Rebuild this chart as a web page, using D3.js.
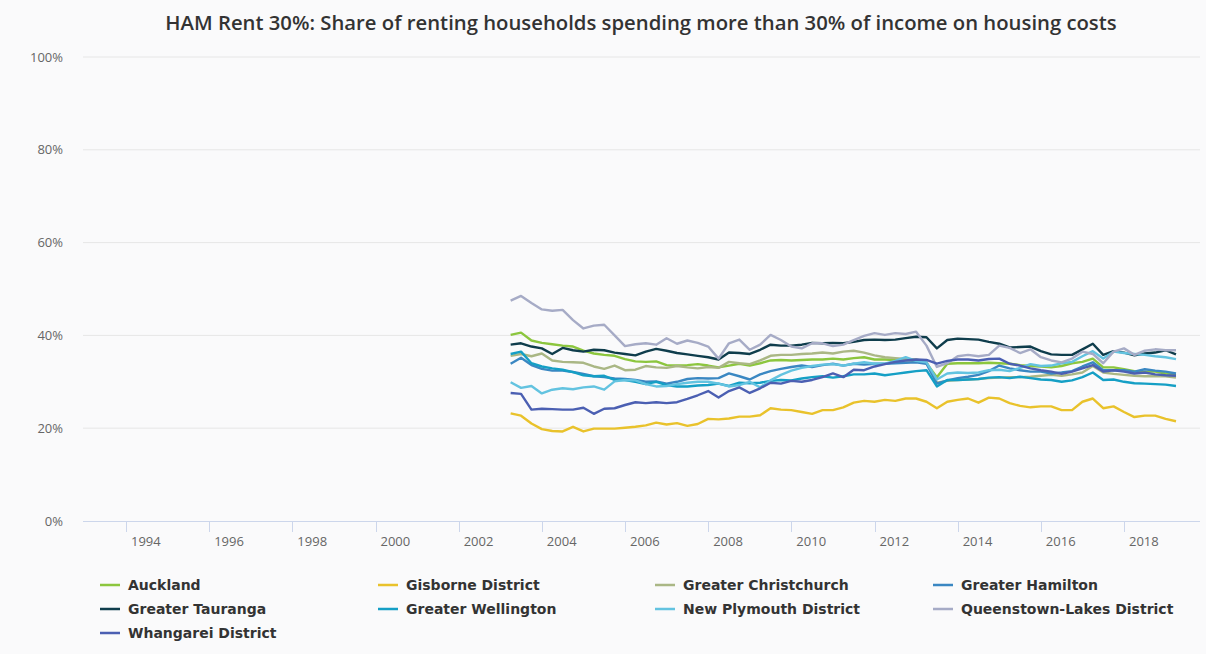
<!DOCTYPE html>
<html>
<head>
<meta charset="utf-8">
<script src="https://cdn.jsdelivr.net/npm/d3@7.9.0/dist/d3.min.js"></script>
<style>
  body { margin: 0; background: #fafafb; }
  svg { display: block; font-family: "Open Sans", sans-serif; }
</style>
</head>
<body>
<svg id="chart" width="1206" height="654"></svg>
<script>
// quarterly values, first point 2003 Q2
const startYear = 2003.25;
const xTicks = [1994, 1996, 1998, 2000, 2002, 2004, 2006, 2008, 2010, 2012, 2014, 2016, 2018];
const yTicks = [0, 20, 40, 60, 80, 100];

const auckland = [40.1, 40.6, 38.9, 38.4, 38.1, 37.8, 37.6, 36.7, 36.1, 35.8,
  35.6, 34.9, 34.4, 34.3, 34.4, 33.6, 33.5, 33.6, 33.8, 33.5,
  33.1, 33.5, 33.9, 33.5, 34.0, 34.6, 34.7, 34.6, 34.7, 34.8,
  34.8, 35.0, 34.8, 35.1, 35.3, 34.8, 34.8, 34.7, 34.7, 34.6,
  34.0, 31.0, 33.9, 34.0, 34.0, 34.0, 34.1, 34.0, 33.9, 33.6,
  33.4, 33.3, 33.1, 33.4, 34.0, 34.3, 35.0, 33.1, 33.1, 32.7,
  32.3, 32.2, 32.2, 31.8, 31.5];
const gisborne = [23.2, 22.7, 21.0, 19.8, 19.4, 19.3, 20.3, 19.3, 19.9, 19.9,
  19.9, 20.1, 20.3, 20.6, 21.2, 20.8, 21.1, 20.5, 20.9, 22.0,
  21.9, 22.1, 22.5, 22.5, 22.8, 24.3, 24.0, 23.9, 23.5, 23.1,
  23.9, 23.9, 24.5, 25.5, 25.9, 25.7, 26.1, 25.9, 26.4, 26.4,
  25.7, 24.3, 25.7, 26.1, 26.4, 25.5, 26.6, 26.4, 25.4, 24.8,
  24.5, 24.7, 24.7, 23.9, 23.9, 25.7, 26.4, 24.3, 24.7, 23.5,
  22.4, 22.7, 22.7, 22.0, 21.5];
const christchurch = [35.6, 36.0, 35.5, 36.1, 34.6, 34.3, 34.2, 34.1, 33.3, 32.8,
  33.5, 32.5, 32.6, 33.4, 33.1, 33.0, 33.4, 33.1, 32.9, 33.2,
  33.0, 34.3, 34.0, 33.8, 34.6, 35.6, 35.8, 35.8, 36.0, 36.1,
  36.3, 36.1, 36.5, 36.7, 36.3, 35.7, 35.3, 35.1, 34.9, 34.8,
  34.3, 29.8, 30.2, 30.4, 30.5, 30.6, 30.8, 30.9, 31.0, 31.0,
  31.1, 31.3, 31.5, 31.3, 31.6, 32.0, 33.4, 32.0, 31.7, 31.5,
  31.3, 31.2, 31.2, 31.2, 30.9];
const hamilton = [33.9, 35.2, 33.6, 32.8, 32.4, 32.4, 32.1, 31.7, 31.2, 31.0,
  30.7, 30.6, 30.4, 30.0, 30.1, 29.6, 30.0, 30.6, 30.8, 30.7,
  30.8, 31.8, 31.2, 30.5, 31.6, 32.3, 32.8, 33.2, 33.5, 33.2,
  33.6, 33.9, 33.5, 33.9, 33.7, 33.9, 33.9, 34.0, 34.1, 34.2,
  33.9, 29.6, 30.3, 30.8, 31.1, 31.5, 32.3, 33.5, 32.9, 32.5,
  32.2, 32.2, 31.8, 32.0, 32.3, 33.3, 34.2, 32.5, 32.5, 32.5,
  32.2, 32.7, 32.4, 32.2, 31.8];
const tauranga = [38.0, 38.3, 37.6, 37.2, 36.0, 37.3, 36.8, 36.5, 36.9, 36.8,
  36.3, 36.0, 35.7, 36.5, 37.1, 36.7, 36.2, 35.9, 35.6, 35.3,
  34.8, 36.3, 36.2, 36.0, 36.9, 38.0, 37.8, 37.8, 38.0, 38.4,
  38.3, 38.4, 38.3, 38.6, 39.0, 39.1, 39.0, 39.1, 39.4, 39.7,
  39.6, 37.2, 39.0, 39.3, 39.2, 39.1, 38.6, 38.2, 37.4, 37.5,
  37.6, 36.6, 35.9, 35.8, 35.8, 37.0, 38.2, 35.8, 36.6, 36.3,
  35.7, 36.1, 36.3, 36.8, 35.9];
const wellington = [36.0, 36.5, 34.0, 33.3, 32.9, 32.6, 32.1, 31.4, 31.2, 31.3,
  30.4, 30.4, 30.0, 29.5, 30.0, 29.3, 29.0, 29.0, 29.2, 29.3,
  29.6, 29.1, 29.8, 29.7, 29.8, 30.2, 30.4, 30.3, 30.7, 31.0,
  31.2, 30.9, 31.2, 31.6, 31.6, 31.8, 31.4, 31.7, 32.0, 32.3,
  32.5, 29.0, 30.4, 30.4, 30.5, 30.6, 30.9, 31.0, 30.8, 31.1,
  30.8, 30.5, 30.4, 30.0, 30.3, 31.0, 32.0, 30.4, 30.5, 30.0,
  29.7, 29.6, 29.5, 29.4, 29.1];
const newPlymouth = [29.9, 28.7, 29.1, 27.5, 28.3, 28.6, 28.4, 28.8, 29.0, 28.3,
  30.1, 30.4, 30.3, 29.5, 29.0, 29.1, 29.5, 29.8, 30.0, 30.0,
  29.6, 29.0, 29.3, 30.0, 28.8, 30.3, 31.5, 32.4, 33.0, 33.4,
  33.7, 33.8, 33.5, 33.9, 34.2, 33.9, 33.9, 34.5, 35.3, 34.5,
  34.2, 30.5, 31.8, 32.0, 31.9, 32.0, 32.5, 32.6, 32.3, 33.0,
  33.8, 33.4, 33.5, 34.0, 34.3, 35.5, 36.6, 35.0, 36.5, 36.2,
  36.0, 35.8, 35.5, 35.3, 34.9];
const queenstown = [47.5, 48.5, 47.0, 45.6, 45.3, 45.5, 43.3, 41.5, 42.1, 42.3,
  40.0, 37.7, 38.1, 38.3, 38.0, 39.4, 38.2, 38.9, 38.4, 37.6,
  35.0, 38.3, 39.1, 36.9, 38.0, 40.1, 39.0, 37.6, 37.2, 38.3,
  38.3, 37.7, 38.0, 39.0, 39.9, 40.5, 40.1, 40.5, 40.3, 40.8,
  37.8, 33.2, 34.0, 35.5, 35.8, 35.5, 35.8, 37.8, 37.3, 36.2,
  37.0, 35.3, 34.6, 34.2, 35.0, 36.5, 36.0, 34.0, 36.5, 37.2,
  35.8, 36.7, 37.0, 36.8, 36.8];
const whangarei = [27.6, 27.4, 24.0, 24.2, 24.1, 24.0, 24.0, 24.4, 23.1, 24.2,
  24.3, 25.0, 25.6, 25.4, 25.6, 25.4, 25.6, 26.3, 27.1, 28.0,
  26.6, 28.0, 28.8, 27.6, 28.6, 29.8, 29.6, 30.2, 30.0, 30.4,
  31.0, 31.8, 31.0, 32.6, 32.5, 33.3, 33.8, 34.3, 34.6, 34.8,
  34.7, 33.9, 34.5, 34.8, 34.8, 34.6, 34.9, 35.0, 33.9, 33.5,
  32.9, 32.5, 32.2, 31.7, 32.2, 32.9, 33.6, 32.2, 32.5, 32.2,
  31.8, 32.0, 31.6, 31.4, 31.3];

const names = ['Auckland', 'Gisborne District', 'Greater Christchurch', 'Greater Hamilton',
  'Greater Tauranga', 'Greater Wellington', 'New Plymouth District', 'Queenstown-Lakes District',
  'Whangarei District'];
const colors = ['#8cc63e', '#e9c22b', '#aab785', '#3a87c2', '#0f3d4c', '#159fc5', '#63c3e0', '#a6abc6', '#4b5fb2'];
const values = [auckland, gisborne, christchurch, hamilton, tauranga, wellington, newPlymouth, queenstown, whangarei];

const series = names.map((name, i) => ({ name, color: colors[i], values: values[i] }));

const svg = d3.select('#chart');

const x = d3.scaleLinear().domain([1994, 2018]).range([126, 1124]);
const y = d3.scaleLinear().domain([0, 100]).range([521, 57]);

// title
const title = svg.append('text')
  .attr('x', 641).attr('y', 30)
  .attr('text-anchor', 'middle')
  .attr('fill', '#333')
  .attr('font-weight', 600)
  .attr('font-size', 18)
  .text('HAM Rent 30%: Share of renting households spending more than 30% of income on housing costs');
const tw = title.node().getComputedTextLength();
title.attr('font-size', 18 * 952 / tw);

// gridlines + y labels
svg.append('g').selectAll('line')
  .data(yTicks.filter(d => d > 0))
  .join('line')
  .attr('x1', 83).attr('x2', 1200)
  .attr('y1', d => y(d)).attr('y2', d => y(d))
  .attr('stroke', '#e6e6e6');

svg.append('g').selectAll('text')
  .data(yTicks)
  .join('text')
  .attr('x', 63).attr('y', d => y(d) + 4.5)
  .attr('text-anchor', 'end')
  .attr('font-size', 13)
  .attr('fill', '#666')
  .text(d => d + '%');

// x axis
svg.append('line')
  .attr('x1', 83).attr('x2', 1200)
  .attr('y1', 521.5).attr('y2', 521.5)
  .attr('stroke', '#ccd6eb');

const xg = svg.append('g');
xg.selectAll('line')
  .data(xTicks)
  .join('line')
  .attr('x1', d => Math.round(x(d)) + 0.5).attr('x2', d => Math.round(x(d)) + 0.5)
  .attr('y1', 521).attr('y2', 532)
  .attr('stroke', '#ccd6eb');
xg.selectAll('text')
  .data(xTicks)
  .join('text')
  .attr('x', d => x(d) + 5).attr('y', 546)
  .attr('font-size', 13)
  .attr('fill', '#666')
  .text(d => d);

// lines
const line = d3.line()
  .x((d, i) => x(startYear + i * 0.25))
  .y(d => y(d));

svg.append('g').selectAll('path')
  .data(series)
  .join('path')
  .attr('d', d => line(d.values))
  .attr('fill', 'none')
  .attr('stroke', d => d.color)
  .attr('stroke-width', 2.4)
  .attr('stroke-linejoin', 'round');

// legend, 4 columns
const colX = [100, 378, 655, 933];
const rowY = [585, 609, 633];
const items = svg.append('g').selectAll('g')
  .data(series)
  .join('g')
  .attr('transform', (d, i) => `translate(${colX[i % 4]},${rowY[Math.floor(i / 4)]})`);
items.append('line')
  .attr('x1', 0).attr('x2', 20)
  .attr('stroke', d => d.color)
  .attr('stroke-width', 2.5);
items.append('text')
  .attr('x', 28).attr('y', 5)
  .attr('font-family', '"DejaVu Sans", sans-serif')
  .attr('font-size', 14)
  .attr('font-weight', 700)
  .attr('fill', '#333')
  .text(d => d.name);
</script>
</body>
</html>
